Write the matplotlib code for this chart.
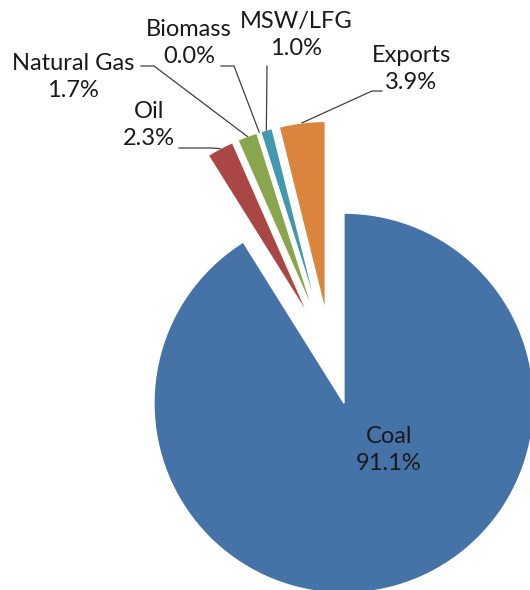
import numpy as np
import matplotlib.pyplot as plt

# shares of generation, clockwise from 12 o'clock
labels = ['Coal', 'Oil', 'Natural Gas', 'Biomass', 'MSW/LFG', 'Exports']
shares = [91.1, 2.3, 1.7, 0.0, 1.0, 3.9]
colors = ['#4572A7', '#AA4643', '#89A54E', '#71588F', '#4198AF', '#DB843D']

SCALE = 190.0      # pixels per unit of pie radius
CX, CY = 331, 358  # pie centre in image pixels (y down)


def px(x, y):
    # image pixel -> data coords
    return ((x - CX) / SCALE, (CY - y) / SCALE)


# text centre of each label, and leader knee / end, in pixels
label_xy = {'Oil': (149, 125), 'Natural Gas': (73, 77), 'Biomass': (189, 43),
            'MSW/LFG': (296, 35), 'Exports': (411, 69)}
leader = {'Oil': [(211, 148), (179, 148)],
          'Natural Gas': [(154, 66), (141, 66)],
          'Biomass': [(234, 66), (221, 66)],
          'MSW/LFG': [(267, 66)],
          'Exports': [(372, 91), (382, 91)]}

plt.rcParams['font.family'] = ['Lato', 'DejaVu Sans']

fig = plt.figure(figsize=(5.3, 5.9), dpi=100)
ax = fig.add_axes([0, 0, 1, 1])
wedges, _ = ax.pie(shares, colors=colors, startangle=90, counterclock=False,
                   explode=[0.247] * len(shares), radius=1,
                   wedgeprops=dict(edgecolor='white', linewidth=1))
ax.set_xlim(px(0, 0)[0], px(530, 0)[0])
ax.set_ylim(px(0, 590)[1], px(0, 0)[1])
ax.set_aspect('equal')
ax.axis('off')

for w, name, val in zip(wedges, labels, shares):
    txt = f'{name}\n{val:.1f}%'
    if name == 'Coal':
        ax.text(*px(389, 450), txt, ha='center', va='center', fontsize=17,
                color='#1a1a1a', linespacing=1.3)
        continue
    mid = np.deg2rad((w.theta1 + w.theta2) / 2)
    ox, oy = w.center
    tip = (ox + w.r * np.cos(mid), oy + w.r * np.sin(mid))
    pts = [tip] + [px(*p) for p in leader[name]]
    ax.plot([p[0] for p in pts], [p[1] for p in pts], color='#404040', lw=0.9)
    ax.text(*px(*label_xy[name]), txt, ha='center', va='center', fontsize=17,
            color='#1a1a1a', linespacing=1.3)

fig.savefig('out.png', dpi=100)
